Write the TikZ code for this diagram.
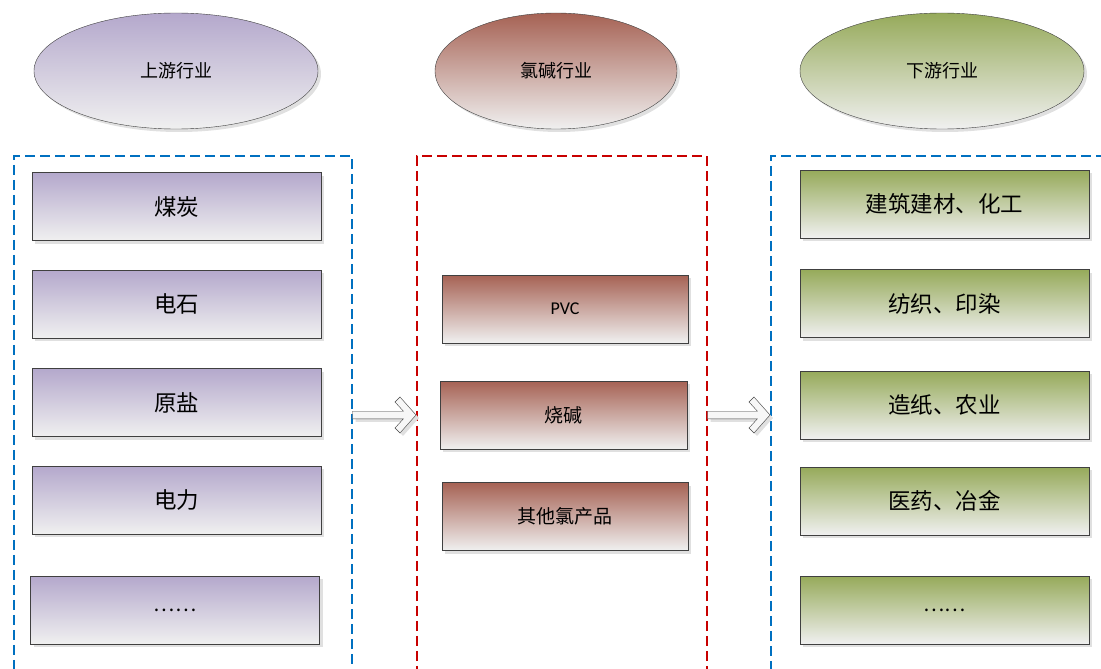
\documentclass[tikz,border=0pt]{standalone}
\usepackage{fontspec}
\setmainfont{Noto Sans CJK SC}
\newfontfamily\latinfont{Carlito}
\usetikzlibrary{shapes.geometric,shadows,calc}
\definecolor{upcol}{RGB}{180,168,204}
\definecolor{midcol}{RGB}{166,98,84}
\definecolor{downcol}{RGB}{150,170,90}
\definecolor{paleback}{RGB}{240,240,240}
\definecolor{blueline}{RGB}{0,112,192}
\definecolor{redline}{RGB}{200,0,0}
\tikzset{
  shade/.style={drop shadow={shadow xshift=3pt, shadow yshift=-3pt, fill=black!12, opacity=1}},
  ind/.style={ellipse, draw=black!75, minimum width=284pt, minimum height=116pt,
    bottom color=paleback, font=\fontsize{18}{20}\selectfont, shade},
  item/.style={rectangle, draw=black!75, minimum width=289pt, minimum height=68pt,
    bottom color=paleback, font=\fontsize{22.5}{25}\selectfont, shade},
  frame/.style={rectangle, draw, line width=1.5pt, dash pattern=on 10pt off 5pt,
    anchor=north west, minimum height=560pt, inner sep=0pt},
  blockarrow/.style={draw=black!75, fill=black!3, shade}
}
\begin{document}
\begin{tikzpicture}[x=1pt, y=-1pt]
    \clip (0,0) rectangle (1101,669);
    \useasboundingbox (0,0) rectangle (1101,669);

    % industry ellipses
    \node (up) [ind, top color=upcol] at (176,71) {上游行业};
    \node (mid) [ind, top color=midcol, minimum width=242pt] at (556,71) {氯碱行业};
    \node (down) [ind, top color=downcol] at (942,71) {下游行业};

    % dashed frames
    \node (upframe) [frame, draw=blueline, minimum width=338pt] at (13,155) {};
    \node (midframe) [frame, draw=redline, minimum width=290pt] at (416,155) {};
    \node (downframe) [frame, draw=blueline, minimum width=360pt] at (770,155) {};

    % upstream
    \node (coal) [item, top color=upcol] at (176.5,206.5) {煤炭};
    \node (carbide) [item, top color=upcol] at (176.5,304) {电石};
    \node (salt) [item, top color=upcol] at (176.5,402.5) {原盐};
    \node (power) [item, top color=upcol] at (176.5,500) {电力};
    \node (upmore) [item, top color=upcol, font=\fontsize{20}{22}\selectfont] at (175,610) {……};

    % chlor-alkali
    \node (pvc) [item, top color=midcol, minimum width=246pt, font=\latinfont\fontsize{18}{20}\selectfont]
        at (565,309) {PVC};
    \node (soda) [item, top color=midcol, minimum width=247pt, font=\fontsize{19}{21}\selectfont]
        at (563.5,415) {烧碱};
    \node (other) [item, top color=midcol, minimum width=246pt, font=\fontsize{19}{21}\selectfont]
        at (565,516.5) {其他氯产品};

    % downstream
    \node (build) [item, top color=downcol] at (944.5,204) {建筑建材、化工};
    \node (textile) [item, top color=downcol] at (944.5,303.5) {纺织、印染};
    \node (paper) [item, top color=downcol] at (944.5,405) {造纸、农业};
    \node (medic) [item, top color=downcol] at (944.5,501) {医药、冶金};
    \node (downmore) [item, top color=downcol, font=\fontsize{20}{22}\selectfont] at (944.5,610) {……};

    % flow arrows
    \coordinate (a1s) at (upframe.east |- 0,415);
    \coordinate (a1e) at (midframe.west |- 0,415);
    \coordinate (a2s) at (midframe.east |- 0,415);
    \coordinate (a2e) at (downframe.west |- 0,415);

    \draw [blockarrow] ($(a1s)+(0,-3.8)$) -- ($(a1e)+(-12.6,-3.8)$) -- ($(a1e)+(-21,-13)$)
        -- ($(a1e)+(-16,-18)$) -- (a1e) -- ($(a1e)+(-16,18)$) -- ($(a1e)+(-21,13)$)
        -- ($(a1e)+(-12.6,3.8)$) -- ($(a1s)+(0,3.8)$) -- cycle;
    \draw [blockarrow] ($(a2s)+(0,-3.8)$) -- ($(a2e)+(-12.6,-3.8)$) -- ($(a2e)+(-21,-13)$)
        -- ($(a2e)+(-16,-18)$) -- (a2e) -- ($(a2e)+(-16,18)$) -- ($(a2e)+(-21,13)$)
        -- ($(a2e)+(-12.6,3.8)$) -- ($(a2s)+(0,3.8)$) -- cycle;
\end{tikzpicture}
\end{document}
